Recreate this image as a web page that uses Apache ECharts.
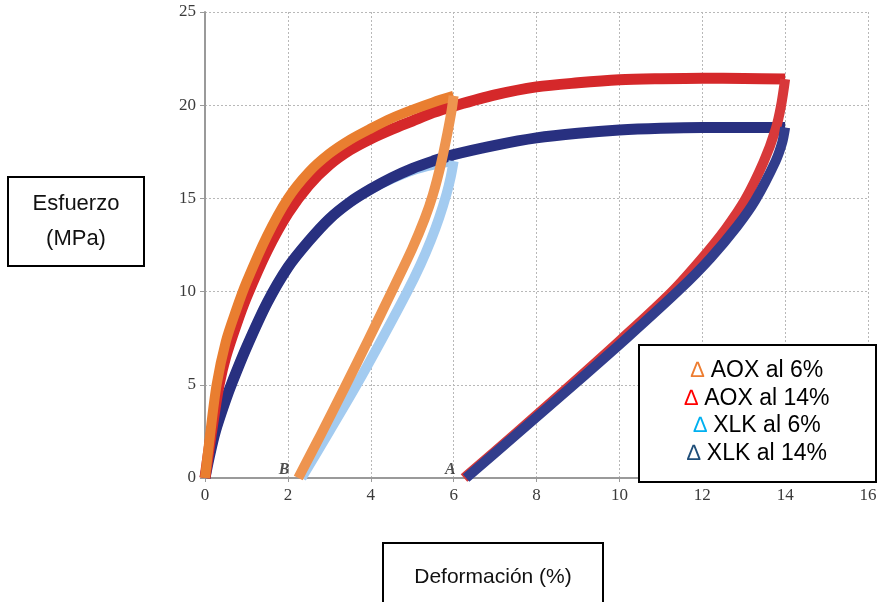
<!DOCTYPE html>
<html><head><meta charset="utf-8">
<script src="https://cdn.jsdelivr.net/npm/echarts@6/dist/echarts.min.js"></script>
<style>html,body{margin:0;padding:0;background:#fff}#c{width:880px;height:602px}</style>
</head><body><div id="c"></div>
<script>
// Tick labels
const xTicks = [0, 2, 4, 6, 8, 10, 12, 14, 16];
const yTicks = [0, 5, 10, 15, 20, 25];

// Loading curves (strain %, stress MPa)
const aox14LoadX = [0, 0.1, 0.2, 0.34, 0.5, 0.75, 1, 1.5, 2, 2.5, 3, 3.5, 4, 4.5, 5, 5.5, 6, 7, 8, 9, 10, 11, 12, 13, 14];
const aox14LoadY = [0, 1.6, 3.1, 5.0, 6.5, 8.2, 9.7, 12.2, 14.2, 15.7, 16.8, 17.6, 18.2, 18.7, 19.15, 19.6, 19.95, 20.55, 20.98, 21.2, 21.36, 21.42, 21.45, 21.43, 21.4];
const aox6LoadX = [0, 0.1, 0.28, 0.5, 0.75, 1, 1.5, 2, 2.5, 3, 3.5, 4, 4.5, 5, 5.5, 6];
const aox6LoadY = [0, 1.9, 5.0, 7.3, 9.0, 10.5, 13.0, 15.0, 16.4, 17.4, 18.15, 18.75, 19.3, 19.75, 20.15, 20.5];
const xlk14LoadX = [0, 0.1, 0.25, 0.5, 0.65, 1, 1.5, 2, 2.5, 3, 3.5, 4, 4.5, 5, 5.5, 6, 7, 8, 9, 10, 11, 12, 13, 14];
const xlk14LoadY = [0, 1.1, 2.5, 4.2, 5.1, 7.0, 9.4, 11.3, 12.7, 13.9, 14.8, 15.5, 16.1, 16.6, 17.0, 17.35, 17.85, 18.25, 18.5, 18.67, 18.76, 18.8, 18.8, 18.8];
const xlk6LoadX = [0, 0.1, 0.25, 0.5, 0.65, 1, 1.5, 2, 2.5, 3, 3.5, 4, 4.5, 5, 5.5, 6];
const xlk6LoadY = [0, 1.1, 2.5, 4.2, 5.1, 7.0, 9.4, 11.3, 12.7, 13.9, 14.8, 15.5, 16.05, 16.5, 16.8, 17.0];

// Unloading curves (listed by increasing strain)
const aox6UnloadX = [2.25, 2.8, 3.38, 3.95, 4.55, 5.0, 5.3, 5.5, 5.7, 5.85, 5.95, 6.0];
const aox6UnloadY = [0, 2.35, 4.9, 7.45, 10.2, 12.3, 13.9, 15.2, 16.9, 18.5, 19.7, 20.5];
const xlk6UnloadX = [2.33, 3.0, 3.66, 4.27, 4.87, 5.2, 5.45, 5.65, 5.83, 5.93, 6.0];
const xlk6UnloadY = [0, 2.5, 5.0, 7.45, 9.95, 11.45, 12.75, 13.95, 15.25, 16.15, 17.0];
const aox14UnloadX = [6.25, 7.5, 8.8, 10.05, 11.25, 11.98, 12.56, 13.04, 13.48, 13.77, 13.9, 14.0];
const aox14UnloadY = [0, 2.4, 4.95, 7.45, 9.95, 11.75, 13.35, 14.95, 16.95, 18.7, 19.95, 21.4];
const xlk14UnloadX = [6.3, 7.55, 8.9, 10.2, 11.45, 12.2, 12.84, 13.28, 13.77, 13.93, 14.0];
const xlk14UnloadY = [0, 2.4, 5.0, 7.55, 10.1, 11.8, 13.5, 14.9, 17.0, 18.0, 18.8];

// Point labels
const pointLabelNames = ['B', 'A'];
const pointLabelX = [1.91, 5.92];
const pointLabelY = [0.45, 0.45];

// Legend
const legendNames = ['AOX al 6%', 'AOX al 14%', 'XLK al 6%', 'XLK al 14%'];
const legendColors = ['#ED7D31', '#FF0000', '#00B0F0', '#1F4E79'];

function pairs(xs, ys) { return xs.map((x, i) => [x, ys[i]]); }

function lineSeries(name, xs, ys, color, width) {
  return {
    type: 'line', name: name, data: pairs(xs, ys), smooth: 0.3,
    showSymbol: false, symbol: 'none',
    lineStyle: { color: color, width: width, cap: 'butt', join: 'round' },
    emphasis: { disabled: true }, silent: true
  };
}

const chart = echarts.init(document.getElementById('c'), null, { renderer: 'canvas' });

const series = [
  lineSeries('XLK al 6%', xlk6LoadX, xlk6LoadY, '#9DC6EE', 10),
  lineSeries('XLK al 14%', xlk14LoadX, xlk14LoadY, '#283080', 11),
  lineSeries('AOX al 14%', aox14LoadX, aox14LoadY, '#D5282A', 11),
  lineSeries('AOX al 6%', aox6LoadX, aox6LoadY, '#E97E30', 10),
  lineSeries('XLK al 6%', xlk6UnloadX, xlk6UnloadY, '#A3CBF0', 10),
  lineSeries('AOX al 6%', aox6UnloadX, aox6UnloadY, '#EE944F', 10),
  lineSeries('AOX al 14%', aox14UnloadX, aox14UnloadY, '#D8393A', 10),
  lineSeries('XLK al 14%', xlk14UnloadX, xlk14UnloadY, '#323D8C', 10),
  {
    type: 'scatter', symbolSize: 0, silent: true,
    data: pointLabelNames.map((n, i) => ({ value: [pointLabelX[i], pointLabelY[i]], name: n })),
    label: {
      show: true, position: 'inside', formatter: p => p.name,
      fontFamily: 'Liberation Serif', fontStyle: 'italic', fontWeight: 'bold',
      fontSize: 16, color: '#222'
    }
  }
];

const legendGraphics = legendNames.map((n, i) => ({
  type: 'text', z: 101,
  x: 757, y: 371 + i * 27.5,
  style: {
    text: '{t|\u2206} ' + n,
    rich: { t: { fill: legendColors[i], fontSize: 22, fontFamily: 'Liberation Sans' } },
    fontFamily: 'Liberation Sans', fontSize: 23, fill: '#000',
    align: 'center', verticalAlign: 'middle'
  }
}));

chart.setOption({
  animation: false,
  backgroundColor: '#fff',
  grid: { left: 205, right: 12, top: 12, bottom: 124, containLabel: false },
  xAxis: {
    type: 'value', min: 0, max: 16, interval: 2,
    axisLine: { show: true, onZero: false, lineStyle: { color: '#9a9a9a', width: 2 } },
    axisTick: { show: true, length: 4, lineStyle: { color: '#9a9a9a' } },
    axisLabel: { fontFamily: 'Liberation Serif', fontSize: 17, color: '#3a3a3a', margin: 9,
      formatter: v => xTicks.includes(v) ? String(v) : '' },
    splitLine: { show: true, lineStyle: { color: '#b8b8b8', type: [2, 2], width: 1 } }
  },
  yAxis: {
    type: 'value', min: 0, max: 25, interval: 5,
    axisLine: { show: true, onZero: false, lineStyle: { color: '#9a9a9a', width: 2 } },
    axisTick: { show: true, length: 5, lineStyle: { color: '#9a9a9a' } },
    axisLabel: { fontFamily: 'Liberation Serif', fontSize: 17, color: '#3a3a3a', margin: 9,
      formatter: v => yTicks.includes(v) ? String(v) : '' },
    splitLine: { show: true, lineStyle: { color: '#b8b8b8', type: [2, 2], width: 1 } }
  },
  series: series,
  graphic: [
    { type: 'rect', shape: { x: 8, y: 177, width: 136, height: 89 },
      style: { fill: '#fff', stroke: '#000', lineWidth: 2 }, z: 100 },
    { type: 'text', x: 76, y: 204, z: 101,
      style: { text: 'Esfuerzo', fontFamily: 'Liberation Sans', fontSize: 22, fill: '#111', align: 'center', verticalAlign: 'middle' } },
    { type: 'text', x: 76, y: 239, z: 101,
      style: { text: '(MPa)', fontFamily: 'Liberation Sans', fontSize: 22, fill: '#111', align: 'center', verticalAlign: 'middle' } },
    { type: 'rect', shape: { x: 383, y: 543, width: 220, height: 70 },
      style: { fill: '#fff', stroke: '#000', lineWidth: 2 }, z: 100 },
    { type: 'text', x: 493, y: 577, z: 101,
      style: { text: 'Deformación (%)', fontFamily: 'Liberation Sans', fontSize: 21, fill: '#111', align: 'center', verticalAlign: 'middle' } },
    { type: 'rect', shape: { x: 639, y: 345, width: 237, height: 137 },
      style: { fill: '#fff', stroke: '#000', lineWidth: 2 }, z: 100 },
    ...legendGraphics
  ]
});
</script></body></html>
